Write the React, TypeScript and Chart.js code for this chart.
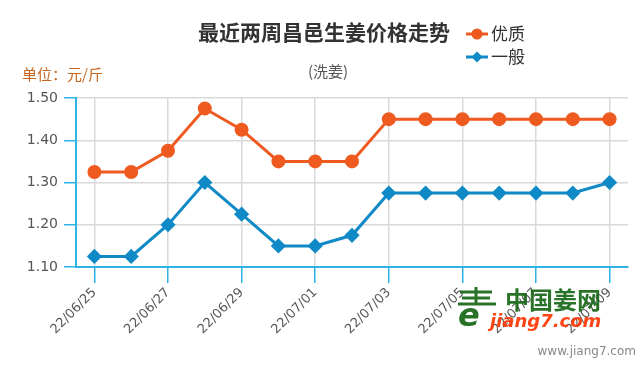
import React, { useEffect, useRef } from "react";
import { Chart, registerables } from "chart.js";

Chart.register(...registerables);

const categories = [
  "22/06/25", "22/06/26", "22/06/27", "22/06/28", "22/06/29", "22/06/30", "22/07/01",
  "22/07/02", "22/07/03", "22/07/04", "22/07/05", "22/07/06", "22/07/07", "22/07/08", "22/07/09",
];
const youzhi = [1.325, 1.325, 1.375, 1.475, 1.425, 1.35, 1.35, 1.35, 1.45, 1.45, 1.45, 1.45, 1.45, 1.45, 1.45];
const yiban = [1.125, 1.125, 1.2, 1.3, 1.225, 1.15, 1.15, 1.175, 1.275, 1.275, 1.275, 1.275, 1.275, 1.275, 1.3];
const seriesNames = ["优质", "一般"];
const yTicks = [1.1, 1.2, 1.3, 1.4, 1.5];
const titleText = "最近两周昌邑生姜价格走势";
const subtitleText = "(洗姜)";
const unitText = "单位：元/斤";

const ORANGE = "#ee5a1f";
const BLUE = "#0f8ac6";
const AXIS = "#2fb3e6";
const FONT = "'Noto Sans CJK SC', 'Noto Sans', sans-serif";

const decorPlugin = {
  id: "decor",
  afterDraw(chart: any) {
    const ctx = chart.ctx as CanvasRenderingContext2D;
    ctx.save();
    // title
    ctx.fillStyle = "#333";
    ctx.font = `bold 21px ${FONT}`;
    ctx.textAlign = "center";
    ctx.textBaseline = "middle";
    ctx.fillText(titleText, 324, 32);
    ctx.font = `15px ${FONT}`;
    ctx.fillStyle = "#555";
    ctx.fillText(subtitleText, 328, 71);
    // unit
    ctx.textAlign = "left";
    ctx.fillStyle = "#c8651e";
    ctx.font = `15px ${FONT}`;
    ctx.fillText(unitText, 22, 74);
    // legend
    const items = [
      { name: seriesNames[0], color: ORANGE, y: 34, style: "circle" },
      { name: seriesNames[1], color: BLUE, y: 57, style: "diamond" },
    ];
    items.forEach((it) => {
      ctx.strokeStyle = it.color;
      ctx.lineWidth = 3;
      ctx.beginPath();
      ctx.moveTo(466, it.y);
      ctx.lineTo(488, it.y);
      ctx.stroke();
      ctx.fillStyle = it.color;
      ctx.beginPath();
      if (it.style === "circle") {
        ctx.arc(477, it.y, 5.5, 0, Math.PI * 2);
      } else {
        ctx.moveTo(477, it.y - 5.5);
        ctx.lineTo(482.5, it.y);
        ctx.lineTo(477, it.y + 5.5);
        ctx.lineTo(471.5, it.y);
        ctx.closePath();
      }
      ctx.fill();
      ctx.fillStyle = "#333";
      ctx.font = `17px ${FONT}`;
      ctx.textAlign = "left";
      ctx.fillText(it.name, 491, it.y);
    });
    // watermark logo
    ctx.globalAlpha = 0.95;
    ctx.fillStyle = "#1d6b1d";
    ctx.font = `bold 24px ${FONT}`;
    ctx.fillText("中国姜网", 505, 300);
    ctx.fillStyle = "#ff3a0a";
    ctx.font = `italic bold 18px 'DejaVu Sans', sans-serif`;
    ctx.fillText("jiang7.com", 490, 322);
    // stylized logo mark
    ctx.strokeStyle = "#1d6b1d";
    ctx.lineWidth = 3;
    ctx.beginPath();
    ctx.moveTo(460, 292); ctx.lineTo(492, 292);
    ctx.moveTo(462, 298); ctx.lineTo(490, 298);
    ctx.moveTo(458, 304); ctx.lineTo(496, 304);
    ctx.moveTo(476, 287); ctx.lineTo(476, 304);
    ctx.stroke();
    ctx.fillStyle = "#1d6b1d";
    ctx.font = `italic bold 32px 'DejaVu Sans', sans-serif`;
    ctx.fillText("e", 458, 318);
    ctx.globalAlpha = 1;
    // site text
    ctx.fillStyle = "#888";
    ctx.font = `12px 'DejaVu Sans', sans-serif`;
    ctx.textAlign = "right";
    ctx.fillText("www.jiang7.com", 636, 352);
    ctx.restore();
  },
};

export default function App() {
  const ref = useRef<HTMLCanvasElement>(null);
  useEffect(() => {
    if (!ref.current) return;
    const chart = new Chart(ref.current, {
      type: "line",
      data: {
        labels: categories,
        datasets: [
          {
            label: seriesNames[0],
            data: youzhi,
            borderColor: ORANGE,
            backgroundColor: ORANGE,
            borderWidth: 3,
            pointRadius: 5.5,
            pointHoverRadius: 5.5,
            pointStyle: "circle",
            tension: 0,
          },
          {
            label: seriesNames[1],
            data: yiban,
            borderColor: BLUE,
            backgroundColor: BLUE,
            borderWidth: 3,
            pointRadius: 5.5,
            pointHoverRadius: 5.5,
            pointStyle: "rectRot",
            tension: 0,
          },
        ],
      },
      options: {
        animation: false,
        responsive: false,
        maintainAspectRatio: false,
        layout: { padding: { top: 98, right: 16, left: 0, bottom: 0 } },
        plugins: {
          legend: { display: false },
          title: { display: false },
          tooltip: { enabled: false },
        },
        scales: {
          x: {
            offset: true,
            grid: {
              offset: false,
              color: "#d9d9d9",
              lineWidth: 1.5,
              tickColor: AXIS,
              tickLength: 16,
              drawOnChartArea: true,
            },
            border: { color: AXIS, width: 2 },
            ticks: {
              autoSkip: false,
              maxRotation: 45,
              minRotation: 45,
              color: "#555",
              font: { family: "'DejaVu Sans', sans-serif", size: 13 },
              padding: 2,
              callback: (v: any, i: number) => (i % 2 === 0 ? categories[i] : null),
            },
            afterFit: (s: any) => {
              s.height = 105;
            },
          },
          y: {
            min: yTicks[0],
            max: yTicks[yTicks.length - 1],
            afterBuildTicks: (s: any) => {
              s.ticks = yTicks.map((v) => ({ value: v }));
            },
            grid: {
              color: "#d9d9d9",
              lineWidth: 1.5,
              tickColor: AXIS,
              tickLength: 12,
            },
            border: { color: AXIS, width: 2 },
            ticks: {
              color: "#555",
              font: { family: "'DejaVu Sans', sans-serif", size: 14 },
              padding: 6,
              callback: (v: any) => Number(v).toFixed(2),
            },
            afterFit: (s: any) => {
              s.width = 76;
            },
          },
        },
      },
      plugins: [decorPlugin],
    });
    return () => chart.destroy();
  }, []);
  return (
    <div style={{ position: "fixed", left: 0, top: 0, width: 644, height: 372, background: "#fff" }}>
      <canvas ref={ref} width={644} height={372} style={{ width: 644, height: 372 }} />
    </div>
  );
}
